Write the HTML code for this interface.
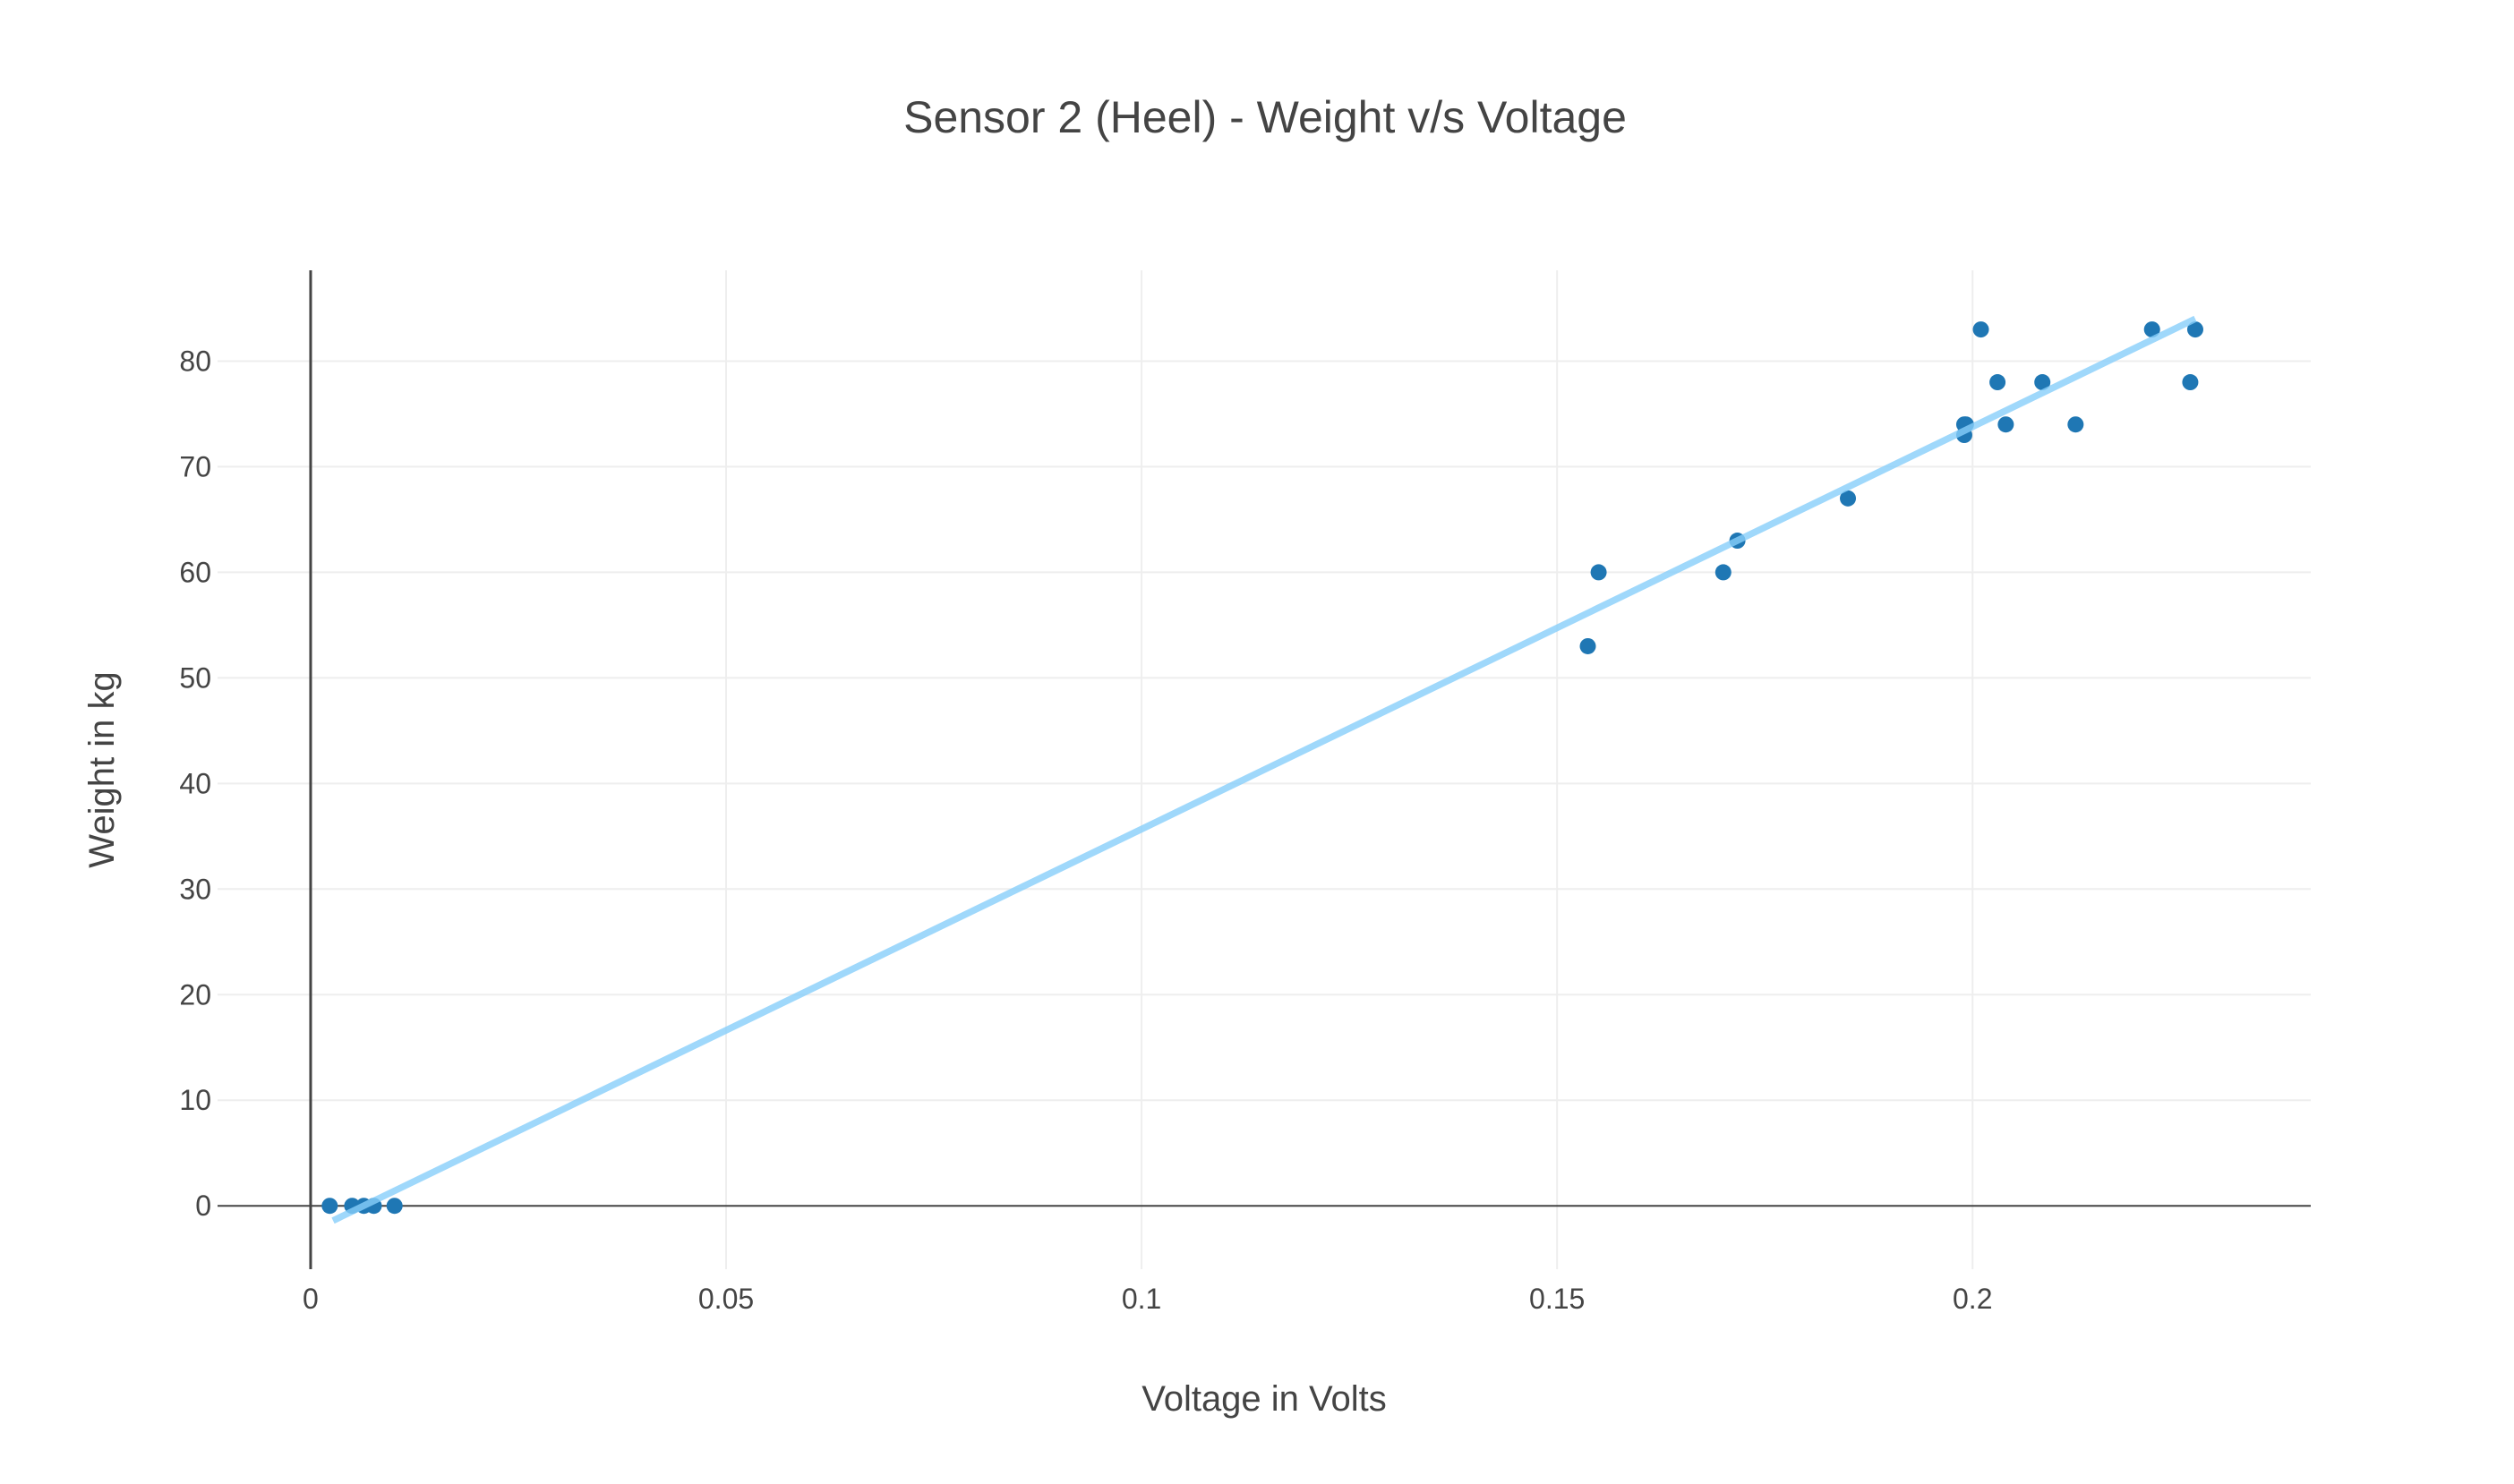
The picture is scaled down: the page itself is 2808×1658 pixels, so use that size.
<!DOCTYPE html>
<html><head><meta charset="utf-8"><style>
html,body{margin:0;padding:0;background:#fff;}
svg text{font-family:"Liberation Sans",sans-serif;fill:#444;}
</style></head><body>
<svg id="chart" width="2808" height="1653" viewBox="0 0 2808 1653" xmlns="http://www.w3.org/2000/svg">
<rect width="2808" height="1653" fill="#fff"/>
<text x="1413" y="148" font-size="50" text-anchor="middle">Sensor 2 (Heel) - Weight v/s Voltage</text>
<g id="grid"></g>
<g id="axes"></g>
<g id="marks"></g>
<text x="1412" y="1576" font-size="40" text-anchor="middle">Voltage in Volts</text>
<text x="127" y="860" font-size="40" text-anchor="middle" transform="rotate(-90 127 860)">Weight in kg</text>
</svg>
<script>
const voltage = [0.0023,0.005,0.0064,0.0076,0.0101,0.1537,0.155,0.170,0.1717,0.185,0.199,0.199,0.1992,0.201,0.203,0.204,0.2084,0.2124,0.2216,0.2262,0.2268];
const weight = [0,0,0,0,0,53,60,60,63,67,74,73,74,83,78,74,78,74,83,78,83];
const fitX = [0.0027,0.2268];
const fitY = [-1.4,84.0];
const xTicks = [0,0.05,0.1,0.15,0.2];
const xTickLabels = ["0","0.05","0.1","0.15","0.2"];
const yTicks = [0,10,20,30,40,50,60,70,80];
const yTickLabels = ["0","10","20","30","40","50","60","70","80"];

const L=243,R=2581,T=302,B=1418;
const xMin=-0.0112,xMax=0.2407,yMin=-6.0,yMax=88.6;
const sx=v=>L+(v-xMin)/(xMax-xMin)*(R-L);
const sy=v=>B-(v-yMin)/(yMax-yMin)*(B-T);
const NS="http://www.w3.org/2000/svg";
function mk(tag,attrs,parent){const e=document.createElementNS(NS,tag);for(const k in attrs)e.setAttribute(k,attrs[k]);parent.appendChild(e);return e;}
const grid=document.getElementById('grid'),axes=document.getElementById('axes'),marks=document.getElementById('marks');

xTicks.forEach((t,i)=>{
  if(t!==0){const g=mk('line',{x1:sx(t),x2:sx(t),y1:T,y2:B,stroke:'#eeeeee','stroke-width':2},grid);
  
  }
  const lb=mk('text',{x:sx(t),y:1462,'font-size':32,'text-anchor':'middle'},axes);
  lb.textContent=xTickLabels[i];
  
  
});
yTicks.forEach((t,i)=>{
  if(t!==0){const g=mk('line',{x1:L,x2:R,y1:sy(t),y2:sy(t),stroke:'#eeeeee','stroke-width':2},grid);
  
  }
  const lb=mk('text',{x:236,y:sy(t)+11,'font-size':32,'text-anchor':'end'},axes);
  lb.textContent=yTickLabels[i];
  
  
});
const zl=mk('line',{x1:L,x2:R,y1:sy(0),y2:sy(0),stroke:'#444','stroke-width':2},axes);


const ya=mk('line',{x1:sx(0),x2:sx(0),y1:T,y2:B,stroke:'#444','stroke-width':3},axes);



voltage.forEach((v,i)=>{
  const c=mk('circle',{cx:sx(v),cy:sy(weight[i]),r:9,fill:'#1f77b4'},marks);
  
  
});
const fl=mk('line',{x1:sx(fitX[0]),y1:sy(fitY[0]),x2:sx(fitX[1]),y2:sy(fitY[1]),stroke:'rgb(135,206,250)','stroke-width':7.5,'stroke-opacity':0.8},marks);


</script>
</body></html>
